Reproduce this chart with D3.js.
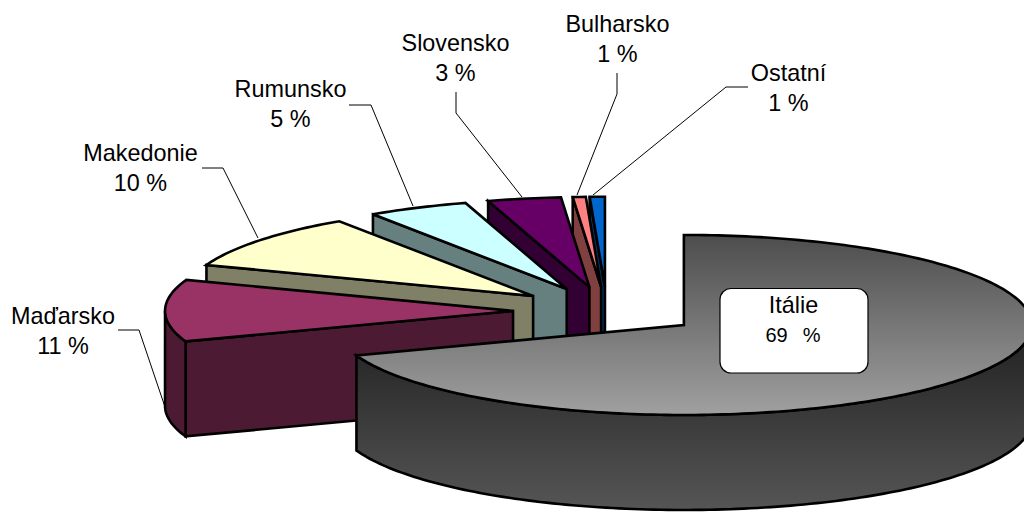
<!DOCTYPE html>
<html><head><meta charset="utf-8">
<script src="https://cdn.jsdelivr.net/npm/d3@7"></script>
<style>html,body{margin:0;background:#fff}svg{display:block}text{font-family:"Liberation Sans",Arial,sans-serif;fill:#000}</style>
</head><body><svg id="c" width="1024" height="512"></svg>
<script>
const categories = ["Itálie","Maďarsko","Makedonie","Rumunsko","Slovensko","Bulharsko","Ostatní"];
const values = [69.5,11.1,10.0,4.7,3.4,0.6,0.7];
const valueLabels = ["69  %","11 %","10 %","5 %","3 %","1 %","1 %"];
const topColors = ["url(#gTop)","#993366","#FFFFCC","#CCFFFF","#660066","#FF8080","#0066CC"];
const wallColors = ["url(#gWall)","#4D1A33","#808066","#668080","#330033","#804040","#003366"];

const W=1024,H=512, cx=607, cy=311, rx=348, ry=90, depth=95, explode=0.27;
const svg=d3.select("#c");
const defs=svg.append("defs");
function grad(id,y1,y2,c1,c2){const g=defs.append("linearGradient").attr("id",id).attr("gradientUnits","userSpaceOnUse").attr("x1",0).attr("x2",0).attr("y1",y1).attr("y2",y2);
 g.append("stop").attr("offset",0).attr("stop-color",c1);g.append("stop").attr("offset",1).attr("stop-color",c2);}
grad("gTop",235,415,"#4D4D4D","#A0A0A0");
grad("gWall",345,510,"#262626","#555555");

const arcs=d3.pie().sort(null).value(d=>d)(values);
const line=d3.line();
function centre(a){const m=(a.startAngle+a.endAngle)/2;return [cx+explode*rx*Math.sin(m),cy-explode*ry*Math.cos(m)];}
function pt(c,t,dz=0){return [c[0]+rx*Math.sin(t),c[1]-ry*Math.cos(t)+dz];}
function samples(t0,t1){const n=Math.max(2,Math.ceil(Math.abs(t1-t0)/0.02));return d3.range(n+1).map(i=>t0+(t1-t0)*i/n);}
const G=svg.append("g");
function poly(pts,fill){G.append("path").attr("d",line(pts)+"Z").attr("fill",fill).attr("stroke","#000").attr("stroke-width",2.6).attr("stroke-linejoin","miter").attr("stroke-miterlimit",3);}
d3.range(arcs.length-1,-1,-1).forEach(i=>{
  const a=arcs[i],c=centre(a),s=a.startAngle,e=a.endAngle;
  if(s>Math.PI){ poly([c,pt(c,s),pt(c,s,depth),[c[0],c[1]+depth]],wallColors[i]); }
  const w0=Math.max(s,Math.PI/2),w1=Math.min(e,Math.PI*1.5);
  if(w1>w0){const ts=samples(w0,w1);poly(ts.map(t=>pt(c,t)).concat(ts.slice().reverse().map(t=>pt(c,t,depth))),wallColors[i]);}
  poly([c].concat(samples(s,e).map(t=>pt(c,t))),topColors[i]);
});

// data labels and leader lines
const labelFont=23.4, lineGap=30;
const labelPos=[null,[63,324],[140.5,161],[290.5,97],[455.5,51],[617.5,32],[788.5,81]];
const leaders=[null,
 [[118,330],[139,330],[165,407]],
 [[202,168],[223,168],[258,238]],
 [[349,105],[371,105],[413,206]],
 [[456,92],[456,113],[522,197]],
 [[617,73],[617,94],[577,195]],
 [[748,87],[726,87],[593,195]]];
const L=svg.append("g");
categories.forEach((n,i)=>{
 if(i===0)return;
 L.append("path").attr("d",line(leaders[i])).attr("fill","none").attr("stroke","#000").attr("stroke-width",1);
 const t=L.append("text").attr("text-anchor","middle").attr("font-size",labelFont);
 t.append("tspan").attr("x",labelPos[i][0]).attr("y",labelPos[i][1]).text(n);
 t.append("tspan").attr("x",labelPos[i][0]).attr("y",labelPos[i][1]+lineGap).text(valueLabels[i]);
});
L.append("rect").attr("x",720).attr("y",288.5).attr("width",148).attr("height",84.5).attr("rx",11).attr("fill","#fff").attr("stroke","#000").attr("stroke-width",1.2);
L.append("text").attr("x",793.5).attr("y",313).attr("text-anchor","middle").attr("font-size",labelFont).text(categories[0]);
L.append("text").attr("x",793).attr("y",342).attr("text-anchor","middle").attr("font-size",20).attr("word-spacing",2).style("white-space","pre").text(valueLabels[0]);
</script></body></html>
